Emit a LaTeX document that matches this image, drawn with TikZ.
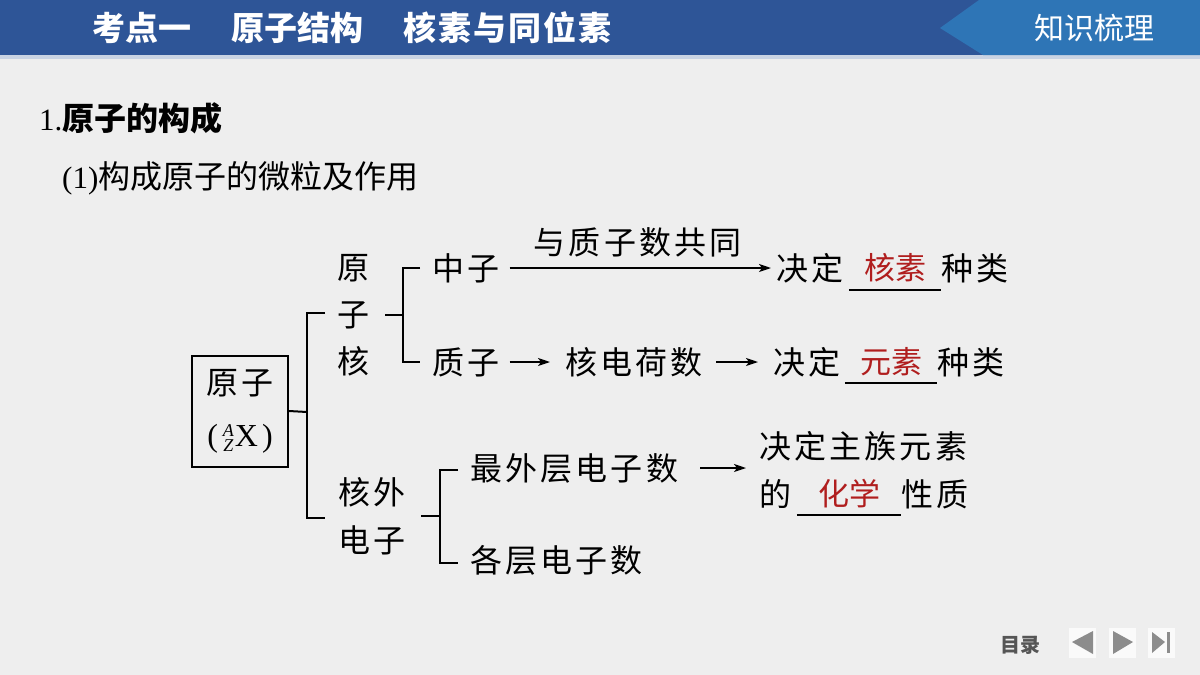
\documentclass[tikz,border=0pt]{standalone}
\usepackage{fontspec}
\setmainfont{Liberation Serif}
\newfontfamily\cjk{Noto Sans CJK SC}
\newfontfamily\cjks[LetterSpace=10]{Noto Sans CJK SC}
\usetikzlibrary{arrows.meta}
\definecolor{hdr}{HTML}{2E5597}
\definecolor{hdrlight}{HTML}{2E75B6}
\definecolor{hdrline}{HTML}{C9D3E3}
\definecolor{bg}{HTML}{EEEEEE}
\definecolor{ansred}{HTML}{B01E1E}
\definecolor{navgray}{HTML}{8C8C8C}
\definecolor{navtext}{HTML}{555555}
\begin{document}
\begin{tikzpicture}[x=1pt,y=-1pt,
  every node/.style={inner sep=0pt},
  dtxt/.style={font=\fontsize{32}{38}\selectfont\cjks, anchor=west},
  vtxt/.style={font=\fontsize{32}{47}\selectfont\cjks, align=center},
  anstxt/.style={font=\fontsize{31}{38}\selectfont\cjk, text=ansred, minimum width=#1},
  uline/.style={line width=1.7pt},
  brk/.style={line width=2pt},
  arr/.style={line width=1.6pt, -{Stealth[length=12pt,width=8pt,inset=3pt]}},
  navbtn/.style={fill=white!70!bg, minimum width=27pt, minimum height=30pt},
  navtri/.style={fill=navgray, draw=none}
]
\useasboundingbox (0,0) rectangle (1200,675);
% background
\fill[bg] (0,0) rectangle (1200,675);
% header
\fill[hdr] (0,0) rectangle (1200,55);
\fill[hdrline] (0,55) rectangle (1200,59);
\fill[hdrlight] (979,0) -- (1200,0) -- (1200,55) -- (983,55) -- (940,28) -- cycle;
\node[anchor=west, text=white, font=\fontsize{33}{40}\selectfont\cjk\bfseries] (title) at (92,28)
  {考点一\hspace{40pt}原子结构\hspace{40pt}{\addfontfeature{LetterSpace=6}核素与同位素}};
\node[text=white, font=\fontsize{30}{36}\selectfont\cjk] (tag) at (1094,28) {知识梳理};
% headings
\node[anchor=west, font=\fontsize{31}{38}\selectfont] (h1) at (39,118) {1.{\fontsize{32}{38}\selectfont\cjk\bfseries 原子的构成}};
\node[anchor=west, font=\fontsize{31}{38}\selectfont] (h2) at (62,178) {(1){\fontsize{32}{38}\selectfont\cjk 构成原子的微粒及作用}};
% atom box
\node[draw, line width=2pt, minimum width=96pt, minimum height=111pt, align=center,
      font=\fontsize{32}{38}\selectfont\cjks] (atom) at (240,411)
  {原子\\[14pt]{\fontsize{32}{38}\selectfont\rmfamily(\hspace{5pt}\raisebox{-5pt}{\fontsize{18}{19}\selectfont\itshape\shortstack{A\\Z}}\hspace{1pt}X\hspace{4pt})}};
% level-1 labels
\node[vtxt] (nuc) at (353,315) {原\\子\\核};
\node[font=\fontsize{32}{48}\selectfont\cjks, align=center] (ele) at (372,516) {核外\\电子};
% bracket 1
\coordinate (b1) at (307,412);
\coordinate (b1t) at (307,313);
\coordinate (b1b) at (307,518);
\coordinate (b1te) at (325,313);
\coordinate (b1be) at (325,518);
\draw[brk] (atom.east) -- (b1);
\draw[brk] (b1te) -- (b1t) -- (b1b) -- (b1be);
% bracket 2 (nucleus)
\coordinate (b2s) at (385,315);
\coordinate (b2) at (403,315);
\coordinate (b2t) at (403,268);
\coordinate (b2b) at (403,362);
\coordinate (b2te) at (420,268);
\coordinate (b2be) at (420,362);
\draw[brk] (b2s) -- (b2);
\draw[brk] (b2te) -- (b2t) -- (b2b) -- (b2be);
% bracket 3 (electrons)
\coordinate (b3s) at (421,516);
\coordinate (b3) at (440,516);
\coordinate (b3t) at (440,470);
\coordinate (b3b) at (440,563);
\coordinate (b3te) at (458,470);
\coordinate (b3be) at (458,563);
\draw[brk] (b3s) -- (b3);
\draw[brk] (b3te) -- (b3t) -- (b3b) -- (b3be);
% row 1: neutron
\node[dtxt] (neu) at (432,268) {中子};
\node[dtxt] (d1) at (776,268) {决定};
\node[anstxt=92pt, minimum height=44pt] (a1) at (895,268) {核素};
\node[dtxt] (k1) at (a1.east) {种类};
\draw[uline] (a1.south west) -- (a1.south east);
\draw[arr, shorten <=10pt, shorten >=5pt] (neu.east) -- (d1.west)
  node[midway, anchor=south, yshift=10pt, font=\fontsize{32}{38}\selectfont\cjks] (lab) {与质子数共同};
% row 2: proton
\node[dtxt] (pro) at (432,362) {质子};
\node[dtxt] (chg) at (565,362) {核电荷数};
\node[dtxt] (d2) at (773,362) {决定};
\node[anstxt=92pt, minimum height=42pt] (a2) at (891,362) {元素};
\node[dtxt] (k2) at (a2.east) {种类};
\draw[uline] (a2.south west) -- (a2.south east);
\draw[arr, shorten <=10pt, shorten >=15pt] (pro.east) -- (chg.west);
\draw[arr, shorten <=13pt, shorten >=15pt] (chg.east) -- (d2.west);
% row 3: electrons
\node[dtxt] (out) at (470,468) {最外层电子数};
\node[dtxt] (lay) at (470,560) {各层电子数};
\node[dtxt] (r1) at (759,446) {决定主族元素};
\node[dtxt] (r2) at (759,494) {的};
\node[anstxt=104pt, minimum height=42pt] (a3) at (849,494) {化学};
\node[dtxt] (r3) at (a3.east) {性质};
\draw[uline] (a3.south west) -- (a3.south east);
\coordinate (rt) at (746,468);
\draw[arr, shorten <=22pt] (out.east) -- (rt);
% navigation
\node[font=\fontsize{20}{24}\selectfont\cjk\bfseries, text=navtext] (toc) at (1020,645) {目录};
\node[navbtn] (nb1) at (1082,643) {};
\node[navbtn] (nb2) at (1122,643) {};
\node[navbtn] (nb3) at (1161,643) {};
\fill[navtri] (1072,642) -- (1093,631) -- (1093,654) -- cycle;
\fill[navtri] (1133,642) -- (1113,631) -- (1113,654) -- cycle;
\fill[navtri] (1165,642) -- (1152,632) -- (1152,653) -- cycle;
\fill[navtri] (1167,632) rectangle (1170,653);
\end{tikzpicture}
\end{document}
